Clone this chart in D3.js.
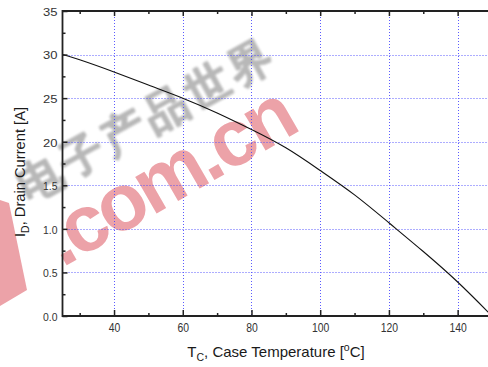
<!DOCTYPE html>
<html>
<head>
<meta charset="utf-8">
<script src="https://cdn.jsdelivr.net/npm/d3@7"></script>
<style>
  html, body { margin: 0; padding: 0; background: #fff; }
  svg { display: block; }
  text { font-family: "Liberation Sans", Arial, sans-serif; }
</style>
</head>
<body>
<div id="chart"></div>
<script>
// ---- data ----
const temps   = [25, 30, 40, 50, 60, 70, 80, 90, 100, 110, 120, 130, 140, 150];
const current = [30.0, 29.4, 28.0, 26.5, 25.0, 23.3, 21.4, 19.3, 16.7, 13.9, 10.7, 7.4, 3.9, 0.0];

const xTickValues = [40, 60, 80, 100, 120, 140];
const xTickLabels = ["40", "60", "80", "100", "120", "140"];
const xMinorValues = [30, 50, 70, 90, 110, 130, 150];
const yTickValues = [0, 5, 10, 15, 20, 25, 30, 35];
const yTickLabels = ["0.0", "0.5", "1.0", "1.5", "20", "25", "30", "35"];
const yMinorValues = [2.5, 7.5, 12.5, 17.5, 22.5, 27.5, 32.5];

const xDomain = [25, 150];
const yDomain = [0, 35];

// ---- layout ----
const W = 488, H = 367;
const m = { left: 62.5, right: -4, top: 11, bottom: 51 };
const x = d3.scaleLinear().domain(xDomain).range([m.left, W - m.right]);
const y = d3.scaleLinear().domain(yDomain).range([H - m.bottom, m.top]);

const svg = d3.select("#chart").append("svg")
  .attr("width", W).attr("height", H);

// ---- watermark (decorative, behind the chart) ----
const defs = svg.append("defs");
defs.append("filter").attr("id", "soft")
  .append("feGaussianBlur").attr("stdDeviation", 0.8);

const wm = svg.append("g").attr("class", "watermark");
wm.append("text")
  .attr("transform", "translate(28,203) rotate(-29)")
  .attr("font-family", "'Noto Sans CJK SC', sans-serif")
  .attr("font-size", 44)
  .attr("letter-spacing", 4)
  .attr("fill", "#b8b8b8")
  .attr("stroke", "#b8b8b8").attr("stroke-width", 2.6)
  .attr("stroke-linejoin", "round")
  .attr("filter", "url(#soft)")
  .text("电子产品世界");

wm.append("path")
  .attr("d", "M0,200 L9,203 L27,290 L0,306 Z")
  .attr("fill", "#eca2a8");
wm.append("g").attr("transform", "translate(62,268) rotate(-30)")
  .append("text")
  .attr("font-weight", "bold")
  .attr("font-size", 80)
  .attr("letter-spacing", -4)
  .attr("fill", "#eca2a8")
  .text(".com.cn");

// ---- grid ----
const grid = svg.append("g").attr("class", "grid")
  .attr("stroke", "#4a4aff").attr("stroke-width", 1)
  .attr("stroke-dasharray", "1,2").attr("opacity", 0.9);
grid.selectAll("line.v").data(xTickValues).join("line")
  .attr("class", "v")
  .attr("x1", d => Math.round(x(d)) + 0.5).attr("x2", d => Math.round(x(d)) + 0.5)
  .attr("y1", y(yDomain[1])).attr("y2", y(yDomain[0]));
grid.selectAll("line.h").data(yTickValues.filter(d => d > 0 && d < 35)).join("line")
  .attr("class", "h")
  .attr("y1", d => Math.round(y(d)) + 0.5).attr("y2", d => Math.round(y(d)) + 0.5)
  .attr("x1", x(xDomain[0])).attr("x2", x(xDomain[1]));

// ---- curve ----
const pts = temps.map((t, i) => [t, current[i]]);
const line = d3.line().x(d => x(d[0])).y(d => y(d[1])).curve(d3.curveNatural);
svg.append("path").datum(pts)
  .attr("fill", "none").attr("stroke", "#111").attr("stroke-width", 1.1)
  .attr("d", line);

// ---- axes ----
const axisColor = "#222";
function styleAxis(g) {
  g.select(".domain").remove();
  g.selectAll(".tick line").attr("stroke", axisColor).attr("stroke-width", 1.5);
}
const gxB = svg.append("g").attr("transform", `translate(0,${y(0)})`)
  .call(d3.axisBottom(x).tickValues(xTickValues).tickSize(-6).tickPadding(7)
    .tickFormat((d, i) => xTickLabels[i]));
styleAxis(gxB);
gxB.selectAll(".tick text")
  .attr("font-size", 13).attr("fill", "#333")
  .attr("transform", "scale(0.8,1)");
svg.append("g").attr("transform", `translate(0,${y(0)})`)
  .call(d3.axisBottom(x).tickValues(xMinorValues).tickSize(-3).tickFormat(""))
  .call(styleAxis);
svg.append("g").attr("transform", `translate(0,${y(35)})`)
  .call(d3.axisTop(x).tickValues(xTickValues).tickSize(-5).tickFormat(""))
  .call(styleAxis);
svg.append("g").attr("transform", `translate(0,${y(35)})`)
  .call(d3.axisTop(x).tickValues(xMinorValues).tickSize(-3).tickFormat(""))
  .call(styleAxis);
const gyL = svg.append("g").attr("transform", `translate(${x(25)},0)`)
  .call(d3.axisLeft(y).tickValues(yTickValues).tickSize(-5).tickPadding(5)
    .tickFormat((d, i) => yTickLabels[i]));
styleAxis(gyL);
gyL.selectAll(".tick text")
  .attr("font-size", 10.5).attr("fill", "#333")
  .attr("dy", "0.42em")
  .attr("textLength", 14.5).attr("lengthAdjust", "spacingAndGlyphs");
svg.append("g").attr("transform", `translate(${x(25)},0)`)
  .call(d3.axisLeft(y).tickValues(yMinorValues).tickSize(-3).tickFormat(""))
  .call(styleAxis);

const frame = svg.append("g").attr("stroke", axisColor).attr("stroke-width", 1.8);
frame.append("line").attr("x1", x(25)).attr("x2", x(25)).attr("y1", y(35) - 0.9).attr("y2", y(0) + 0.9);
frame.append("line").attr("x1", x(25)).attr("x2", x(150)).attr("y1", y(0)).attr("y2", y(0));
frame.append("line").attr("x1", x(25)).attr("x2", x(150)).attr("y1", y(35)).attr("y2", y(35));

// ---- titles ----
const xt = svg.append("text")
  .attr("x", 276).attr("y", 356.5)
  .attr("text-anchor", "middle")
  .attr("font-size", 15).attr("fill", "#1a1a1a");
xt.append("tspan").text("T");
xt.append("tspan").attr("font-size", 10.5).attr("dy", 4).text("C");
xt.append("tspan").attr("dy", -4).text(", Case Temperature [");
xt.append("tspan").attr("font-size", 10.5).attr("dy", -6).text("o");
xt.append("tspan").attr("dy", 6).text("C]");

const yt = svg.append("text")
  .attr("transform", "translate(25,172) rotate(-90)")
  .attr("text-anchor", "middle")
  .attr("font-size", 14.7).attr("fill", "#1a1a1a");
yt.append("tspan").text("I");
yt.append("tspan").attr("font-size", 10.5).attr("dy", 4).text("D");
yt.append("tspan").attr("dy", -4).text(", Drain Current [A]");
</script>
</body>
</html>
